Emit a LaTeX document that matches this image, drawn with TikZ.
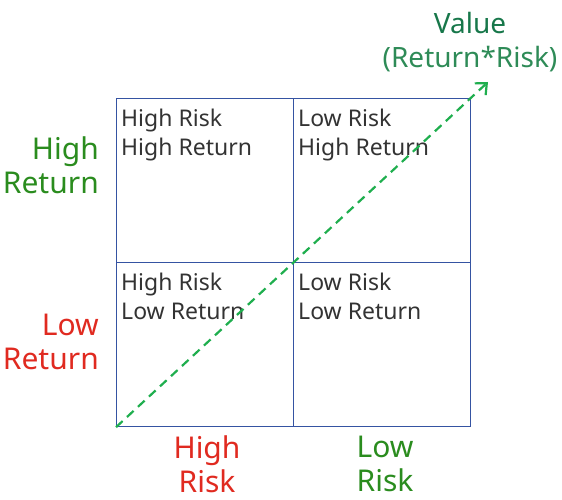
\documentclass[tikz,border=0pt]{standalone}
\usepackage{fontspec}
\setmainfont{Noto Sans}
\usetikzlibrary{positioning,arrows.meta}
\usepackage{xcolor}
\definecolor{gridblue}{HTML}{3553A2}
\definecolor{valgreen}{HTML}{17774A}
\definecolor{valgreenlt}{HTML}{2E8B57}
\definecolor{goodgreen}{HTML}{2A8C1E}
\definecolor{badred}{HTML}{E02A20}
\definecolor{arrowgreen}{HTML}{1FAE4E}
\definecolor{celltext}{HTML}{333333}

\begin{document}
\begin{tikzpicture}[x=1pt,y=-1pt,>={Straight Barb[length=9pt,width=16pt,line width=2.2pt]}]
\useasboundingbox (0,0) rectangle (562,500);
\tikzset{
  cell/.style={draw=gridblue,line width=1.2pt,minimum width=177pt,minimum height=164pt,inner sep=0pt,anchor=north west},
  celltxt/.style={inner sep=0pt,anchor=north west,align=left,text=celltext,font=\fontsize{23}{29}\selectfont},
  axis/.style={inner sep=0pt,font=\fontsize{30}{34}\selectfont}
}
% the four cells
\node[cell] (hrhr) at (116,98) {};
\node[cell] (lrhr) at (293,98) {};
\node[cell] (hrlr) at (116,262) {};
\node[cell] (lrlr) at (293,262) {};
\node[celltxt] (t1) at (121,109) {High Risk\\High Return};
\node[celltxt] (t2) at (298,109) {Low Risk\\High Return};
\node[celltxt] (t3) at (121,273) {High Risk\\Low Return};
\node[celltxt] (t4) at (298,273) {Low Risk\\Low Return};
% axis labels
\node[axis,anchor=east,align=right,text=goodgreen] (hret) at (99,165) {High\\Return};
\node[axis,anchor=east,align=right,text=badred] (lret) at (99,342) {Low\\Return};
\node[axis,align=center,text=badred] (hrisk) at (207,464) {High\\Risk};
\node[axis,align=center,text=goodgreen] (lrisk) at (385,464) {Low\\Risk};
\node[inner sep=0pt,align=center,font=\fontsize{28}{34}\selectfont] (value) at (470,42)
  {\textcolor{valgreen}{Value}\\\textcolor{valgreenlt}{(Return*Risk)}};
% value direction
\coordinate (tip) at (488,82);
\draw[->,arrowgreen,line width=2.2pt,dash pattern=on 9pt off 6pt] (hrlr.south west) -- (tip);
\end{tikzpicture}
\end{document}
